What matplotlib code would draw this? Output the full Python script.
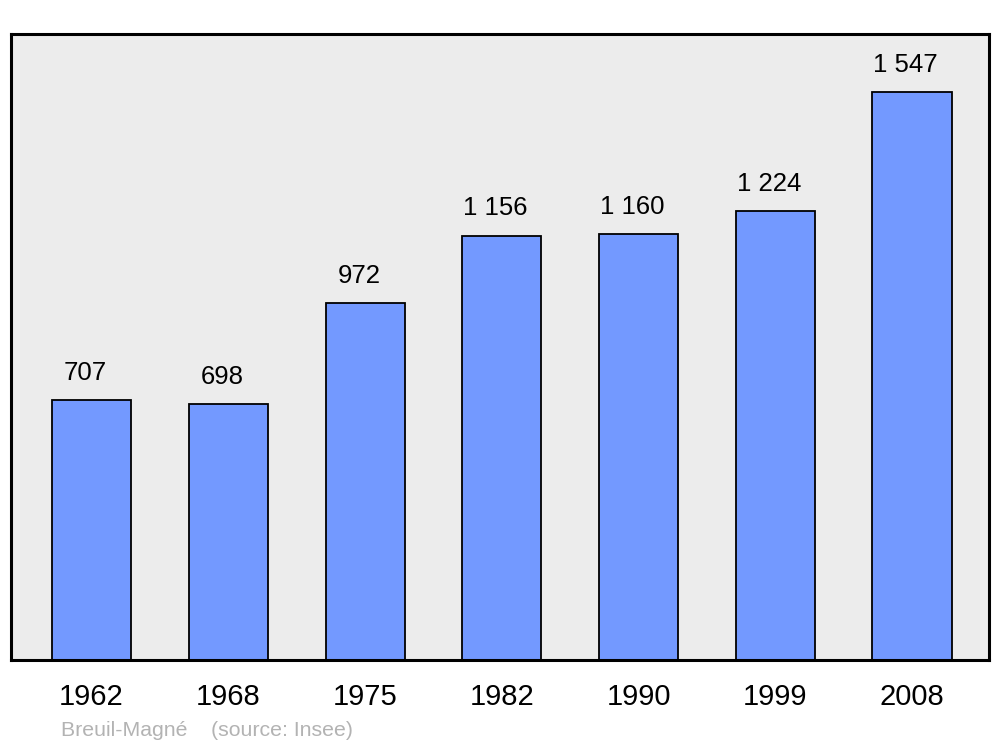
import matplotlib.pyplot as plt

plt.rcParams['font.family'] = ['Liberation Sans', 'DejaVu Sans']

# Data
years = ["1962", "1968", "1975", "1982", "1990", "1999", "2008"]
population = [707, 698, 972, 1156, 1160, 1224, 1547]
commune = "Breuil-Magné"
source = "(source: Insee)"

fig = plt.figure(figsize=(10, 7.47), dpi=100)
ax = fig.add_axes([0.011, 0.1165, 0.978, 0.838])
ax.set_facecolor("#ececec")

x = list(range(len(years)))
bars = ax.bar(x, population, width=0.578, color="#7399ff",
              edgecolor="black", linewidth=1.3, zorder=2)

for xi, v in zip(x, population):
    label = f"{v:,}".replace(",", " ")
    ax.annotate(label, (xi, v), xytext=(-4.5, 19.5), textcoords="offset points",
                ha="center", va="center", fontsize=18.5)

ax.set_xlim(-0.589, 6.563)
ax.set_ylim(0, 1705)
ax.set_xticks(x)
ax.set_xticklabels(years, fontsize=21)
ax.tick_params(axis="x", length=0, pad=16.5)
ax.set_yticks([])
for s in ax.spines.values():
    s.set_linewidth(2.2)

fig.text(0.061, 0.022, f"{commune}    {source}", color="#b3b3b3",
         fontsize=15.3, va="center", ha="left")

fig.savefig("out.png", dpi=100)
